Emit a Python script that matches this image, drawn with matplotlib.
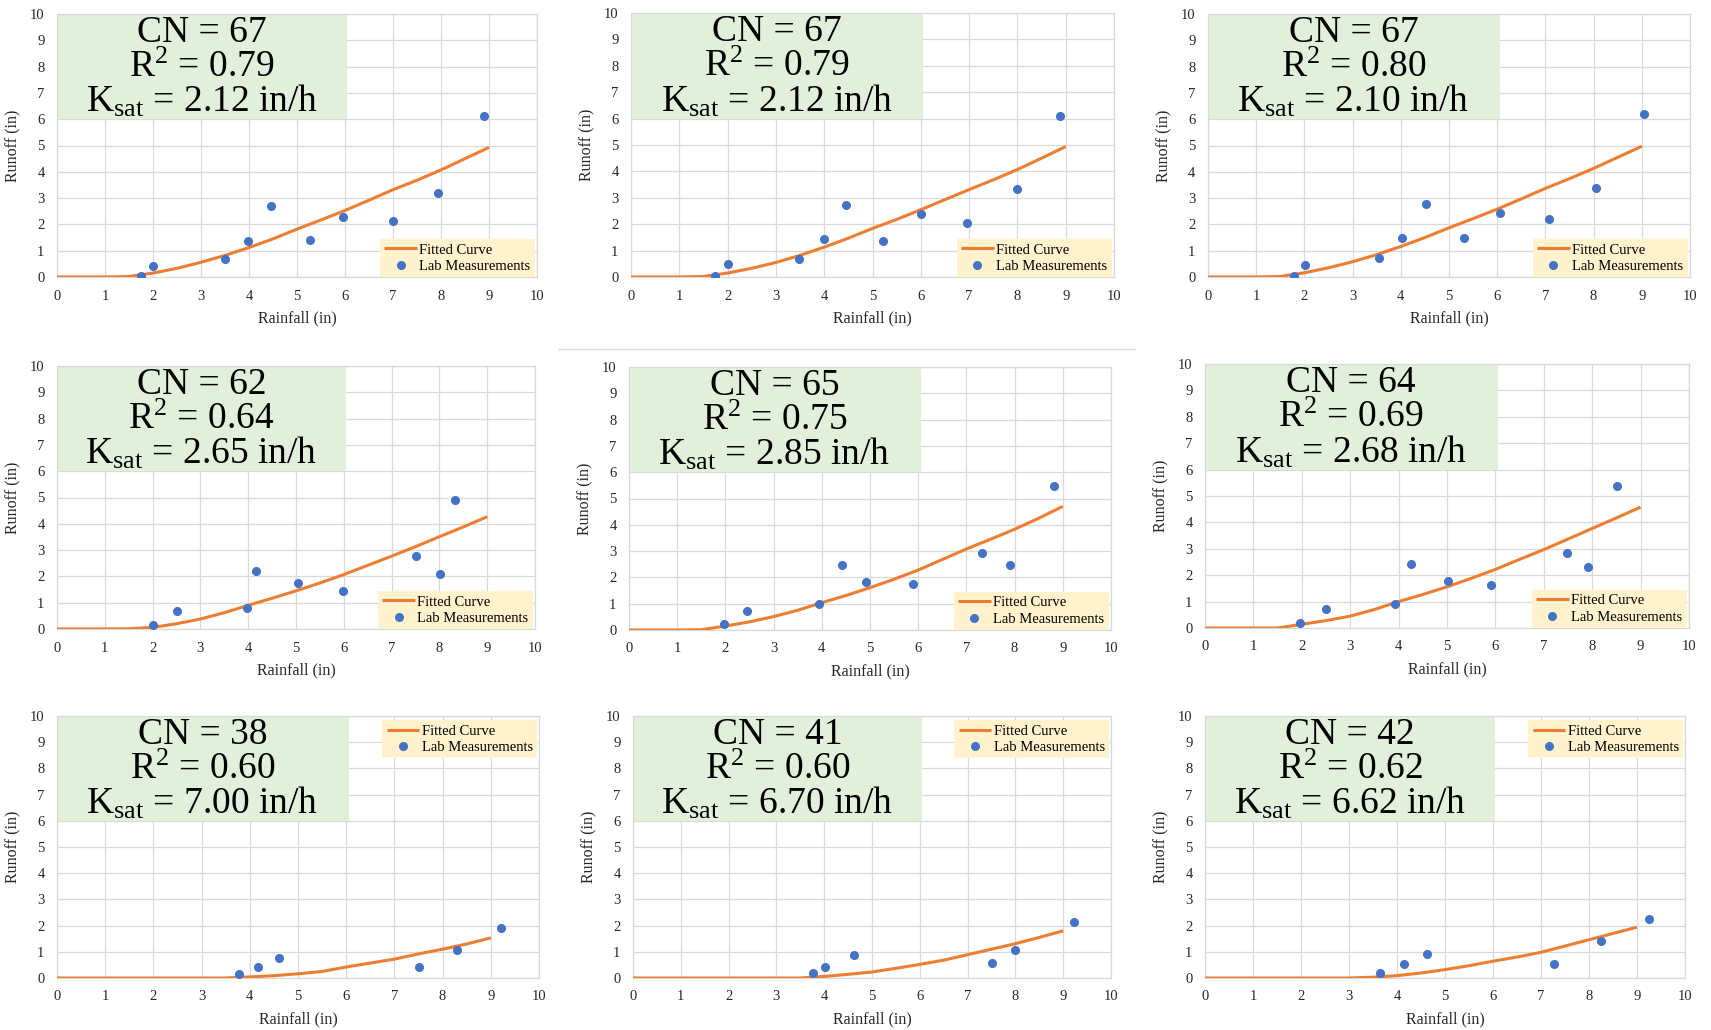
import matplotlib
matplotlib.use("Agg")
import matplotlib.pyplot as plt
from matplotlib.patches import Rectangle
from matplotlib.lines import Line2D

plt.rcParams['font.family'] = ['Liberation Serif', 'DejaVu Serif']
plt.rcParams['mathtext.fontset'] = 'custom'
plt.rcParams['mathtext.rm'] = 'Liberation Serif'
plt.rcParams['mathtext.it'] = 'Liberation Serif:italic'
plt.rcParams['mathtext.bf'] = 'Liberation Serif:bold'

# ---------------- data ----------------
cn_values = [67, 67, 67, 62, 65, 64, 38, 41, 42]
r2_values = ["0.79", "0.79", "0.80", "0.64", "0.75", "0.69", "0.60", "0.60", "0.62"]
ksat_values = ["2.12", "2.12", "2.10", "2.65", "2.85", "2.68", "7.00", "6.70", "6.62"]

curve_rain = [0, 0.5, 1, 1.5, 2, 2.5, 3, 3.5, 4, 4.5, 5, 5.5, 6, 6.5, 7, 7.5, 8, 8.5, 9]
curve_runoff_1 = [0, 0, 0, 0.02, 0.15, 0.33, 0.56, 0.82, 1.12, 1.45, 1.82, 2.17, 2.53, 2.92, 3.32, 3.68, 4.07, 4.50, 4.93]
curve_runoff_2 = [0, 0, 0, 0.02, 0.15, 0.33, 0.55, 0.82, 1.13, 1.47, 1.84, 2.18, 2.55, 2.93, 3.31, 3.68, 4.07, 4.50, 4.94]
curve_runoff_3 = [0, 0, 0, 0.02, 0.16, 0.35, 0.58, 0.85, 1.16, 1.50, 1.87, 2.22, 2.58, 2.97, 3.37, 3.74, 4.13, 4.55, 4.97]
curve_runoff_4 = [0, 0, 0, 0.01, 0.06, 0.20, 0.38, 0.62, 0.90, 1.17, 1.45, 1.75, 2.07, 2.42, 2.77, 3.13, 3.51, 3.88, 4.27]
curve_runoff_5 = [0, 0, 0, 0.01, 0.15, 0.31, 0.51, 0.75, 1.04, 1.31, 1.61, 1.93, 2.28, 2.68, 3.08, 3.45, 3.83, 4.25, 4.70]
curve_runoff_6 = [0, 0, 0, 0.00, 0.14, 0.28, 0.45, 0.70, 1.00, 1.27, 1.56, 1.88, 2.22, 2.60, 2.97, 3.37, 3.77, 4.17, 4.58]
curve_runoff_7 = [0, 0, 0, 0, 0, 0, 0, 0, 0.04, 0.09, 0.16, 0.25, 0.42, 0.57, 0.72, 0.92, 1.10, 1.30, 1.53]
curve_runoff_8 = [0, 0, 0, 0, 0, 0, 0, 0, 0.06, 0.14, 0.23, 0.37, 0.52, 0.68, 0.89, 1.10, 1.31, 1.55, 1.80]
curve_runoff_9 = [0, 0, 0, 0, 0, 0, 0, 0.03, 0.09, 0.19, 0.32, 0.47, 0.64, 0.80, 0.98, 1.22, 1.46, 1.70, 1.94]

obs_rain_1 = [1.75, 1.99, 3.51, 3.98, 4.45, 5.27, 5.95, 7.01, 7.94, 8.89]
obs_runoff_1 = [0.03, 0.43, 0.70, 1.37, 2.71, 1.42, 2.27, 2.13, 3.21, 6.11]
obs_rain_2 = [1.73, 2.00, 3.47, 4.00, 4.45, 5.21, 6.00, 6.95, 8.00, 8.89]
obs_runoff_2 = [0.05, 0.50, 0.68, 1.44, 2.73, 1.35, 2.37, 2.03, 3.32, 6.10]
obs_rain_3 = [1.79, 2.01, 3.54, 4.03, 4.53, 5.32, 6.05, 7.08, 8.06, 9.05]
obs_runoff_3 = [0.03, 0.47, 0.74, 1.47, 2.79, 1.47, 2.43, 2.21, 3.40, 6.21]
obs_rain_4 = [2.01, 2.52, 3.98, 4.16, 5.04, 5.98, 7.52, 8.01, 8.33]
obs_runoff_4 = [0.14, 0.70, 0.79, 2.20, 1.76, 1.46, 2.77, 2.11, 4.91]
obs_rain_5 = [1.98, 2.45, 3.94, 4.42, 4.91, 5.90, 7.32, 7.91, 8.82]
obs_runoff_5 = [0.23, 0.72, 0.98, 2.47, 1.84, 1.75, 2.92, 2.47, 5.49]
obs_rain_6 = [1.97, 2.50, 3.93, 4.25, 5.02, 5.90, 7.48, 7.91, 8.51]
obs_runoff_6 = [0.20, 0.71, 0.91, 2.41, 1.79, 1.61, 2.85, 2.32, 5.37]
obs_rain_7 = [3.77, 4.17, 4.61, 7.51, 8.30, 9.22]
obs_runoff_7 = [0.15, 0.42, 0.77, 0.42, 1.06, 1.90]
obs_rain_8 = [3.77, 4.01, 4.62, 7.51, 8.00, 9.22]
obs_runoff_8 = [0.20, 0.41, 0.88, 0.59, 1.08, 2.14]
obs_rain_9 = [3.65, 4.15, 4.63, 7.28, 8.26, 9.25]
obs_runoff_9 = [0.19, 0.55, 0.90, 0.55, 1.40, 2.25]

axis_ticks = [0, 1, 2, 3, 4, 5, 6, 7, 8, 9, 10]

curves = [curve_runoff_1, curve_runoff_2, curve_runoff_3, curve_runoff_4, curve_runoff_5,
          curve_runoff_6, curve_runoff_7, curve_runoff_8, curve_runoff_9]
obs_rain = [obs_rain_1, obs_rain_2, obs_rain_3, obs_rain_4, obs_rain_5,
            obs_rain_6, obs_rain_7, obs_rain_8, obs_rain_9]
obs_runoff = [obs_runoff_1, obs_runoff_2, obs_runoff_3, obs_runoff_4, obs_runoff_5,
              obs_runoff_6, obs_runoff_7, obs_runoff_8, obs_runoff_9]

# ---------------- layout (pixels: left, top, right, bottom) ----------------
W, H = 1711, 1030
boxes = [(57, 14, 537, 277), (631, 13, 1114, 277), (1208, 14, 1690, 277),
         (57, 366, 535, 629), (629, 367, 1111, 630), (1205, 364, 1689, 628),
         (57, 716, 539, 978), (633, 716, 1111, 978), (1205, 716, 1685, 978)]

ORANGE = "#ED7D31"
BLUE = "#4472C4"
GREEN = "#E2EFDA"
YELLOW = "#FFF2CC"
GRID = "#D9D9D9"
TXT = "#262626"

fig = plt.figure(figsize=(W / 100, H / 100), dpi=100)
fig.patch.set_facecolor("white")

for i, (l, t, r, b) in enumerate(boxes):
    ax = fig.add_axes([l / W, 1 - b / H, (r - l) / W, (b - t) / H])
    ax.set_xlim(0, 10)
    ax.set_ylim(0, 10)
    ax.set_xticks(axis_ticks)
    ax.set_yticks(axis_ticks)
    ax.grid(True, color=GRID, lw=0.9, zorder=0)
    ax.set_axisbelow(True)
    for s in ax.spines.values():
        s.set_color(GRID)
        s.set_linewidth(0.9)
    ax.tick_params(length=0, labelsize=10.5, labelcolor=TXT)
    ax.tick_params(axis='y', pad=9)
    ax.tick_params(axis='x', pad=9)
    ax.set_xlabel("Rainfall (in)", fontsize=11.5, color=TXT, labelpad=6)
    ax.set_ylabel("Runoff (in)", fontsize=11.5, color=TXT, labelpad=6)

    ax.add_patch(Rectangle((0, 6), 6.05, 4, facecolor=GREEN, edgecolor="none", zorder=1.5))
    ax.text(3.02, 8.95, f"CN = {cn_values[i]}", ha="center", va="baseline",
            fontsize=27, color="black", zorder=4)
    ax.text(3.02, 7.6, r"R$^{\mathrm{2}}$ = " + r2_values[i], ha="center", va="baseline",
            fontsize=27, color="black", zorder=4)
    ax.text(3.02, 6.28, r"K$_{\mathrm{sat}}$ = " + ksat_values[i] + " in/h", ha="center",
            va="baseline", fontsize=27, color="black", zorder=4)

    ax.plot(curve_rain, curves[i], color=ORANGE, lw=2.2, zorder=3,
            solid_capstyle="butt", label="Fitted Curve")
    ax.plot(obs_rain[i], obs_runoff[i], "o", color=BLUE, ms=5.5, mec=BLUE,
            zorder=5, label="Lab Measurements", linestyle="none")

    if i < 6:
        leg = ax.legend(loc="lower right", bbox_to_anchor=(0.995, 0.0), borderaxespad=0,
                        fontsize=10.5, frameon=True, fancybox=False, borderpad=0.3,
                        labelspacing=0.2, handlelength=2.25, handletextpad=0.15)
    else:
        leg = ax.legend(loc="upper right", bbox_to_anchor=(0.996, 0.984), borderaxespad=0,
                        fontsize=10.5, frameon=True, fancybox=False, borderpad=0.3,
                        labelspacing=0.2, handlelength=2.25, handletextpad=0.15)
    leg.get_frame().set_facecolor(YELLOW)
    leg.get_frame().set_edgecolor("none")
    leg.get_frame().set_alpha(1)
    leg.set_zorder(6)
    for txt in leg.get_texts():
        txt.set_color("black")

fig.add_artist(Line2D([559 / W, 1135 / W], [1 - 349 / H, 1 - 349 / H],
                      color=GRID, lw=1.0, transform=fig.transFigure))

fig.savefig("out.png", dpi=100, facecolor="white")
